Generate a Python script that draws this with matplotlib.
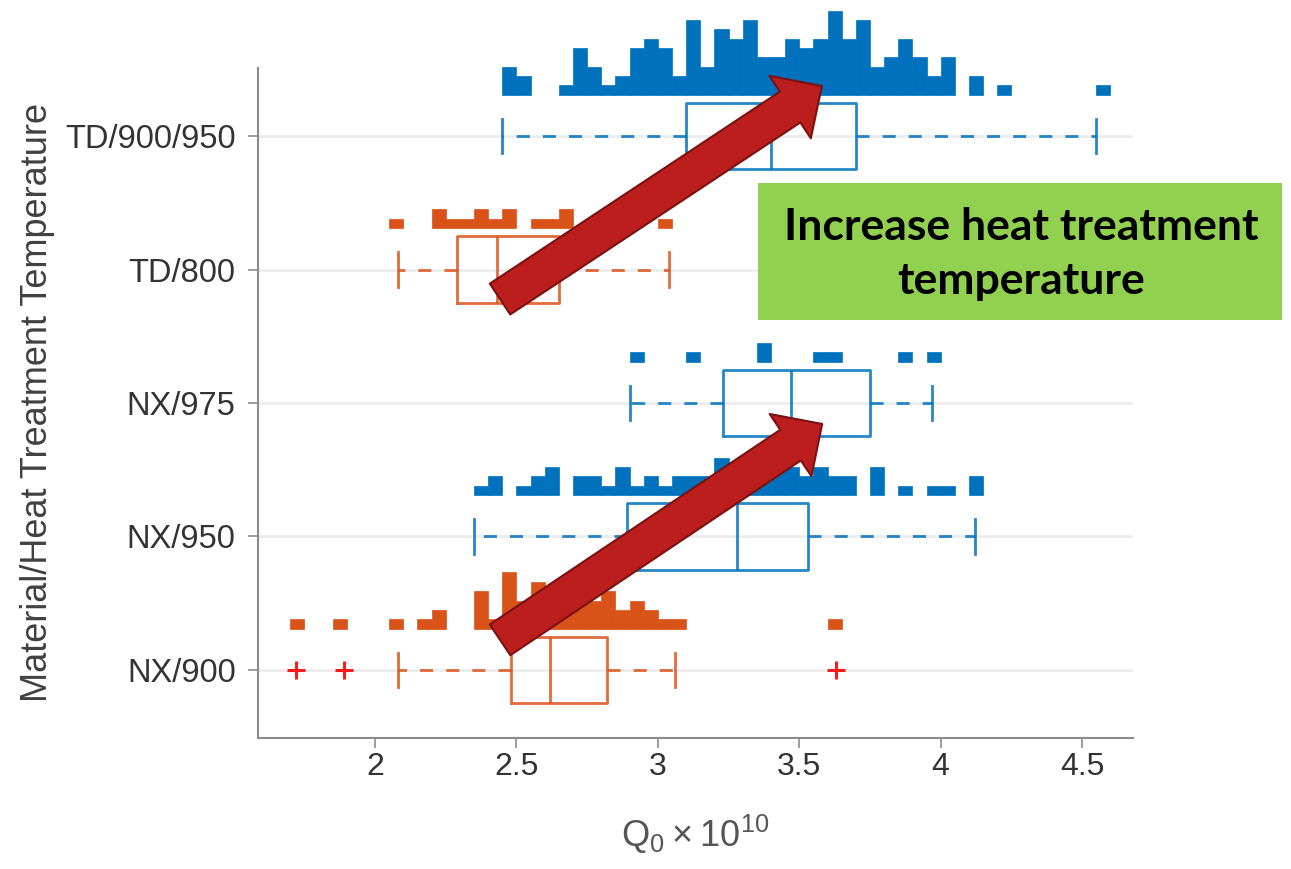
import numpy as np
import matplotlib.pyplot as plt
from matplotlib.patches import Rectangle

groups = ['NX/900', 'NX/950', 'NX/975', 'TD/800', 'TD/900/950']
colors = ['#D95319', '#0072BD', '#0072BD', '#D95319', '#0072BD']

# box statistics, Q0 in units of 1e10
whislo = [2.08, 2.35, 2.90, 2.08, 2.45]
q1 = [2.48, 2.89, 3.23, 2.29, 3.10]
med = [2.62, 3.28, 3.47, 2.43, 3.40]
q3 = [2.82, 3.53, 3.75, 2.65, 3.70]
whishi = [3.06, 4.12, 3.97, 3.04, 4.55]
fliers = [[1.72, 1.89, 3.63], [], [], [], []]

# histogram counts per 0.05 bin, first bin edge in hist_start
bin_width = 0.05
hist_start = [1.70, 2.35, 2.90, 2.05, 2.45]
hist_counts = [
    [1, 0, 0, 1, 0, 0, 0, 1, 0, 1, 2, 0, 0, 4, 1, 6, 3, 5, 4, 4, 3, 3, 4, 2, 3, 2, 1, 1,
     0, 0, 0, 0, 0, 0, 0, 0, 0, 0, 1],
    [1, 2, 0, 1, 2, 3, 0, 2, 2, 1, 3, 1, 2, 1, 2, 2, 2, 4, 3, 3, 2, 3, 3, 2, 3, 2, 2, 0,
     3, 0, 1, 0, 1, 1, 0, 2],
    [1, 0, 0, 0, 1, 0, 0, 0, 0, 2, 0, 0, 0, 1, 1, 0, 0, 0, 0, 1, 0, 1],
    [1, 0, 0, 2, 1, 1, 2, 1, 2, 0, 1, 1, 2, 0, 0, 0, 0, 0, 0, 1],
    [3, 2, 0, 0, 1, 5, 3, 1, 2, 5, 6, 5, 2, 8, 3, 7, 6, 8, 4, 4, 6, 5, 6, 9, 6, 8, 3, 4,
     6, 4, 2, 4, 0, 2, 0, 1, 0, 0, 0, 0, 0, 0, 1],
]

xticks = [2, 2.5, 3, 3.5, 4, 4.5]

fig = plt.figure(figsize=(12.91, 8.69), dpi=100)
ax = fig.add_axes([0.1998, 0.1508, 0.6778, 0.7709])

hist_offset = 0.31
count_scale = 0.07

for i, g in enumerate(groups):
    pos = i + 1
    c = colors[i]
    counts = np.array(hist_counts[i])
    left = hist_start[i] + bin_width * np.arange(len(counts))
    nz = counts > 0
    ax.bar(left[nz], counts[nz] * count_scale, width=bin_width, bottom=pos + hist_offset,
           align='edge', color=c, edgecolor=c, linewidth=0.5, clip_on=False, zorder=3)

    stats = [dict(med=med[i], q1=q1[i], q3=q3[i], whislo=whislo[i], whishi=whishi[i],
                  fliers=fliers[i])]
    ax.bxp(stats, positions=[pos], widths=0.5, orientation='horizontal',
           capwidths=0.26, manage_ticks=False,
           boxprops=dict(color=c, lw=2, alpha=0.85),
           whiskerprops=dict(color=c, lw=2, alpha=0.85, linestyle=(0, (4.7, 4.7))),
           capprops=dict(color=c, lw=2, alpha=0.85),
           medianprops=dict(color=c, lw=2, alpha=0.85),
           flierprops=dict(marker='+', markeredgecolor='#ff1a1a', markersize=13,
                           markeredgewidth=2.2))

ax.set_xlim(1.586, 4.68)
ax.set_ylim(0.49, 5.51)
ax.set_yticks(range(1, 6), groups)
ax.set_xticks(xticks, [f'{t:g}' for t in xticks])

for side in ['top', 'right']:
    ax.spines[side].set_visible(False)
for side in ['left', 'bottom']:
    ax.spines[side].set_color('#8c8c8c')
    ax.spines[side].set_linewidth(1.5)

ax.yaxis.grid(True, color='#ececec', lw=2)
ax.set_axisbelow(True)

ax.tick_params(axis='y', direction='out', length=7, width=1.2, color='#8c8c8c',
               labelsize=23.5, labelcolor='#333333', pad=9)
ax.tick_params(axis='x', direction='out', length=7, width=1.2, color='#8c8c8c',
               labelsize=23, labelcolor='#333333', pad=3)
for lab in ax.get_yticklabels() + ax.get_xticklabels():
    lab.set_family(['Liberation Sans', 'DejaVu Sans'])

plt.rcParams['mathtext.fontset'] = 'custom'
plt.rcParams['mathtext.rm'] = 'Liberation Sans'
ax.set_xlabel(r'$\mathregular{Q_0 \times 10^{10}}$', fontsize=26, color='#555555',
              family=['Liberation Sans'], labelpad=22)
ax.set_ylabel('Material/Heat Treatment Temperature', fontsize=26, color='#404040',
              family=['Liberation Sans', 'DejaVu Sans'], labelpad=7)

# arrows pointing from the low-temperature to the high-temperature groups
arrow_style = 'simple,head_length=27.4,head_width=54,tail_width=26.6'
for tail, tip in [((2.442, 3.779), (3.580, 5.375)), ((2.442, 1.225), (3.581, 2.843))]:
    ax.annotate('', xy=tip, xytext=tail, zorder=10, annotation_clip=False,
                arrowprops=dict(arrowstyle=arrow_style, mutation_scale=1,
                                shrinkA=0, shrinkB=0, fc='#BC1E1E', ec='#7A1212', lw=1.5))

fig.add_artist(Rectangle((0.5871, 0.6318), 0.4059, 0.1577, transform=fig.transFigure,
                         facecolor='#92D050', edgecolor='none', zorder=5))
fig.text(0.791, 0.7077, 'Increase heat treatment\ntemperature', ha='center', va='center',
         fontsize=32, fontweight='bold', family='Lato', linespacing=1.42, zorder=6)

fig.savefig('out.png', dpi=100)
